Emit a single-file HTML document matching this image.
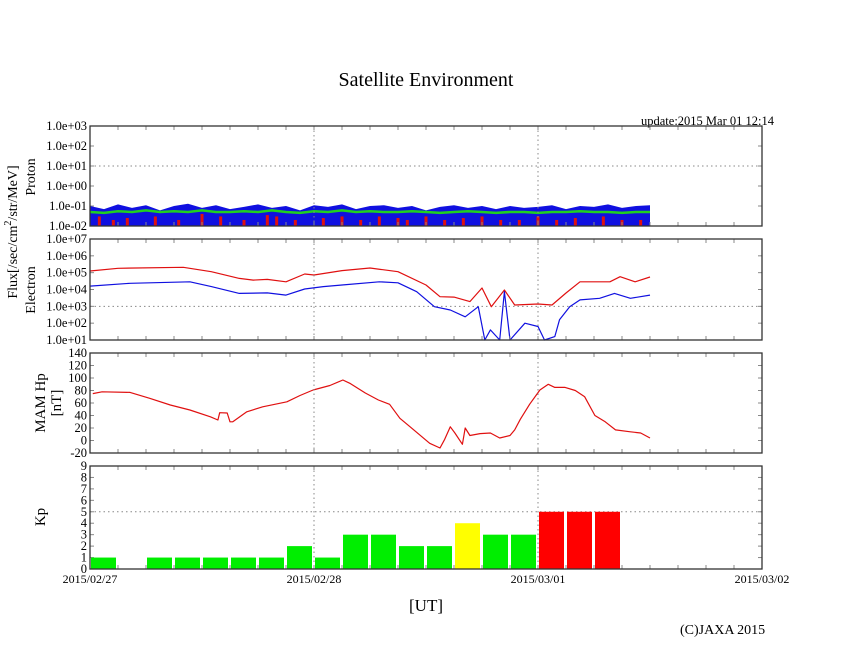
<!DOCTYPE html>
<html><head><meta charset="utf-8"><style>
html,body{margin:0;padding:0;background:#fff;}
svg{display:block;font-family:"Liberation Serif",serif;}
</style></head><body>
<svg id="c" width="846" height="655">
<text x="426" y="86" text-anchor="middle" font-size="20">Satellite Environment</text>
<text x="641" y="125" font-size="12.5">update:2015 Mar 01 12:14</text>
<text transform="translate(17,232) rotate(-90)" text-anchor="middle" font-size="14">Flux[/sec/cm<tspan dy="-6" font-size="10">2</tspan><tspan dy="6">/str/MeV]</tspan></text>
<text transform="translate(35,177) rotate(-90)" text-anchor="middle" font-size="14">Proton</text>
<text transform="translate(35,290) rotate(-90)" text-anchor="middle" font-size="14">Electron</text>
<text transform="translate(45,403) rotate(-90)" text-anchor="middle" font-size="15">MAM Hp</text>
<text transform="translate(61,403) rotate(-90)" text-anchor="middle" font-size="15">[nT]</text>
<text transform="translate(45,517) rotate(-90)" text-anchor="middle" font-size="15">Kp</text>
<text x="426" y="611" text-anchor="middle" font-size="17">[UT]</text>
<text x="680" y="634" font-size="14">(C)JAXA 2015</text>
<g id="g"></g>
</svg>
<script>
// ---- data ----
const dateLabels = ["2015/02/27","2015/02/28","2015/03/01","2015/03/02"];
const protonTickLabels = ["1.0e-02","1.0e-01","1.0e+00","1.0e+01","1.0e+02","1.0e+03"];
const electronTickLabels = ["1.0e+01","1.0e+02","1.0e+03","1.0e+04","1.0e+05","1.0e+06","1.0e+07"];
const mamTicks = [-20,0,20,40,60,80,100,120,140];
const kpTicks = [0,1,2,3,4,5,6,7,8,9];
// hours from 2015/02/27 00:00
const elecRedHours = [0,3,10,13,16,17.5,19,21,23,24,27,30,33,36,37.5,39,40.7,42,43,44.4,45.5,48,49.5,51,52.5,55.7,56.8,58.4,60];
const elecRedLog   = [5.1,5.26,5.32,5.06,4.66,4.56,4.6,4.46,4.92,4.86,5.12,5.28,5.06,4.27,3.57,3.55,3.28,4.09,2.98,3.97,3.08,3.14,3.08,3.79,4.46,4.46,4.76,4.46,4.74];
const elecBlueHours = [0,4.3,10.7,13,16,19,21,23,25,27,31,33,35,36.9,38.6,40.2,41.6,42.3,42.9,43.9,44.4,45,46.6,48,48.7,49.8,50.3,51.4,52.5,54.6,56.2,57.9,60];
const elecBlueLog   = [4.2,4.37,4.46,4.17,3.77,3.8,3.67,4.03,4.17,4.27,4.46,4.4,3.87,2.98,2.78,2.38,2.98,1.0,1.6,1.0,3.87,1.0,2.0,1.8,1.0,1.2,2.2,2.98,3.38,3.48,3.77,3.48,3.67];
const mamHours = [0.3,1.3,4.3,6.4,8.6,10.7,12.9,13.7,13.9,14.7,15,15.3,16.8,18.5,21.1,22.5,23.9,25.7,27.1,27.9,29.5,30.9,32.1,33.2,34.3,36.4,37.5,38,38.6,39.1,39.9,40.2,40.7,41.8,42.9,43.9,45,45.5,46.1,47.1,48.2,49.1,49.8,50.9,52,53,54.1,55.2,56.3,57.9,59,60];
const mamValues = [75,78,77,67.5,56.8,48.8,38,32.8,44.5,44,30,30,46,54,62,72,80.8,88,96.8,91,76,64.8,58,35.5,22,-4.5,-12,2,22,12,-6,20,8,11,12,4,8,17,34,58,80.8,90,85,85,80,70,40,30,17,14,12,4];
const kpValues = [1,0,1,1,1,1,1,2,1,3,3,2,2,4,3,3,5,5,5];
const protonHours = [0,1.5,3,4.5,6,7.5,9,10.5,12,13.5,15,16.5,18,19.5,21,22.5,24,25.5,27,28.5,30,31.5,33,34.5,36,37.5,39,40.5,42,43.5,45,46.5,48,49.5,51,52.5,54,55.5,57,58.5,60];
const protonBlueTop = [0.1,0.07,0.12,0.08,0.11,0.06,0.1,0.13,0.08,0.11,0.07,0.09,0.12,0.08,0.1,0.06,0.11,0.09,0.12,0.07,0.1,0.11,0.08,0.1,0.06,0.09,0.11,0.08,0.1,0.07,0.1,0.08,0.09,0.11,0.07,0.1,0.09,0.12,0.08,0.1,0.11];
const protonGreen = [0.05,0.045,0.055,0.05,0.06,0.05,0.055,0.05,0.06,0.05,0.05,0.055,0.05,0.06,0.05,0.045,0.055,0.05,0.06,0.05,0.055,0.05,0.05,0.055,0.05,0.045,0.05,0.055,0.05,0.045,0.05,0.05,0.045,0.05,0.05,0.055,0.05,0.05,0.045,0.05,0.05];
const protonRedSpikeHours = [1,2.5,4,7,9.5,12,14,16.5,19,20,22,25,27,29,31,33,34,36,38,40,42,44,46,48,50,52,55,57,59];
const protonRedSpikeValues = [0.03,0.02,0.025,0.03,0.02,0.04,0.03,0.02,0.035,0.03,0.02,0.025,0.03,0.02,0.03,0.025,0.02,0.03,0.02,0.025,0.03,0.02,0.02,0.03,0.02,0.025,0.03,0.02,0.02];

// ---- layout ----
const X0=90,X1=762;
const P={pro:[126,226],ele:[239,340],mam:[353,453],kp:[466,569]};
const NS="http://www.w3.org/2000/svg";
const g=document.getElementById('g');
function el(tag,attrs,parent){const e=document.createElementNS(NS,tag);for(const k in attrs)e.setAttribute(k,attrs[k]);(parent||g).appendChild(e);return e;}
const xH=h=>X0+h*(X1-X0)/72;
const yPro=v=>P.pro[1]-(Math.log10(v)+2)*(P.pro[1]-P.pro[0])/5;
const yEle=l=>P.ele[1]-(l-1)*(P.ele[1]-P.ele[0])/6;
const yMam=v=>P.mam[1]-(v+20)*(P.mam[1]-P.mam[0])/160;
const yKp=v=>P.kp[1]-v*(P.kp[1]-P.kp[0])/9;

function frame(key,name){
  const [t,b]=P[key];
  [1,2].forEach(d=>{const l=el('line',{x1:xH(d*24),x2:xH(d*24),y1:t,y2:b,stroke:'#888','stroke-dasharray':'1.5,3','stroke-width':1});
    
    });
  for(let h=3;h<72;h+=3){
    el('line',{x1:xH(h),x2:xH(h),y1:t,y2:t+4,stroke:'#888','stroke-width':1});
    el('line',{x1:xH(h),x2:xH(h),y1:b,y2:b-4,stroke:'#888','stroke-width':1});
  }
  const r=el('rect',{x:X0,y:t,width:X1-X0,height:b-t,fill:'none',stroke:'#333','stroke-width':1.3});
  
  
}
function ytick(y,label,name){
  el('line',{x1:X0,x2:X0+4,y1:y,y2:y,stroke:'#888'});
  el('line',{x1:X1,x2:X1-4,y1:y,y2:y,stroke:'#888'});
  const t=el('text',{x:X0-3,y:y+4,'text-anchor':'end','font-size':12.5});
  t.textContent=label;
  
  
}
function hgrid(y,name){
  const l=el('line',{x1:X0,x2:X1,y1:y,y2:y,stroke:'#888','stroke-dasharray':'1.5,3'});
  
  
}
function poly(xs,ys,color,name,w){
  const pts=xs.map((x,i)=>x.toFixed(1)+','+ys[i].toFixed(1)).join(' ');
  const p=el('polyline',{points:pts,fill:'none',stroke:color,'stroke-width':w||1.2,'stroke-linejoin':'round'});
  
  
}

// proton panel
hgrid(yPro(10),'proton-1e1');
protonTickLabels.forEach((l,i)=>ytick(yPro(Math.pow(10,i-2)),l,'proton-y'));
{
  const top=protonHours.map((h,i)=>xH(h).toFixed(1)+','+yPro(protonBlueTop[i]).toFixed(1));
  const pts=top.join(' ')+' '+xH(60)+','+P.pro[1]+' '+xH(0)+','+P.pro[1];
  const p=el('polygon',{points:pts,fill:'#1010e0'});
  
  
  protonRedSpikeHours.forEach((h,i)=>{
    const s=el('rect',{x:xH(h)-1.5,y:yPro(protonRedSpikeValues[i]),width:3,height:P.pro[1]-yPro(protonRedSpikeValues[i]),fill:'#e01010'});
    
    
  });
  poly(protonHours.map(xH),protonGreen.map(yPro),'#20d020','proton-green-series',2.5);
}
frame('pro','proton');

// electron
hgrid(yEle(3),'electron-1e3');
electronTickLabels.forEach((l,i)=>ytick(yEle(i+1),l,'electron-y'));
poly(elecRedHours.map(xH),elecRedLog.map(yEle),'#e01010','electron-red-series');
poly(elecBlueHours.map(xH),elecBlueLog.map(yEle),'#1010e0','electron-blue-series');
frame('ele','electron');

// MAM
mamTicks.forEach(v=>ytick(yMam(v),String(v),'mam-y'));
poly(mamHours.map(xH),mamValues.map(yMam),'#e01010','mam-hp-series');
frame('mam','mam-hp');

// Kp
hgrid(yKp(5),'kp-5');
kpTicks.forEach(v=>ytick(yKp(v),String(v),'kp-y'));
kpValues.forEach((v,i)=>{
  if(v<=0)return;
  const color=v>=5?'#ff0000':(v>=4?'#ffff00':'#00ee00');
  const r=el('rect',{x:xH(i*3)+1,y:yKp(v),width:xH(3)-X0-3,height:P.kp[1]-yKp(v),fill:color});
  
  
});
frame('kp','kp');
dateLabels.forEach((d,i)=>{
  const t=el('text',{x:xH(i*24),y:583,'text-anchor':'middle','font-size':12});
  t.textContent=d;
  
  
});
</script>
</body></html>
